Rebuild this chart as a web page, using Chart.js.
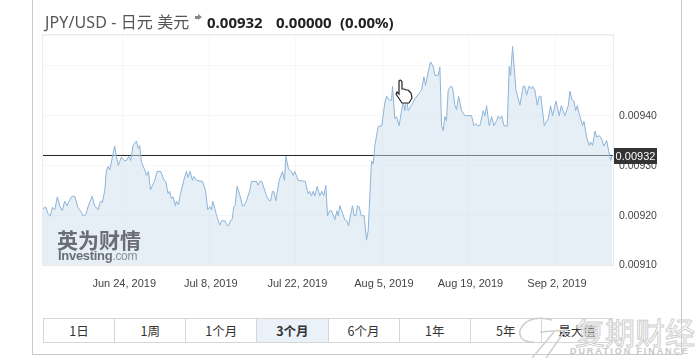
<!DOCTYPE html>
<html>
<head>
<meta charset="utf-8">
<title>JPY/USD</title>
<script src="https://cdn.jsdelivr.net/npm/chart.js@4"></script>
<style>
    html, body { margin: 0; padding: 0; background: #fff; }
    body { width: 698px; height: 360px; position: relative; overflow: hidden; font-family: "Liberation Sans", Arial, sans-serif; }
    #frame { position: absolute; left: 32px; top: -2px; width: 648px; height: 355px; border: 1.5px solid #c9c9c9; }
    #chart { position: absolute; left: 0; top: 0; }
    #title { position: absolute; left: 45px; top: 12px; font: 16px "Noto Sans", "Noto Sans CJK SC", sans-serif; color: #555; white-space: nowrap; line-height: 20px; letter-spacing: 0.1px; }
    #title b { position: absolute; top: 0; color: #222; font-size: 15px; letter-spacing: 0; }
    #arrow { position: absolute; left: 150px; top: 4px; width: 3px; height: 3px; background: #888; }
    #arrow::after { content: ""; position: absolute; left: 3px; top: -2px; border-left: 4px solid #888; border-top: 3.5px solid transparent; border-bottom: 3.5px solid transparent; }
    #tabs { position: absolute; left: 43px; top: 318px; width: 570px; height: 25px; display: flex; border: 1px solid #d6d6d6; box-sizing: border-box; }
    #tabs div { flex: 1; text-align: center; font: 12.5px/23px "Noto Sans CJK SC", sans-serif; color: #333; border-left: 1px solid #d6d6d6; }
    #tabs div:first-child { border-left: 0; }
    #tabs .on { background: #eaf1f8; font-weight: bold; }
    #brand { position: absolute; left: 57px; top: 227px; color: #6a6e74; font: bold 21px/24px "Noto Sans CJK SC", sans-serif; }
    #brand2 { position: absolute; left: 58px; top: 249px; color: #6a6e74; font: bold 13px/14px "Liberation Sans", sans-serif; letter-spacing: -0.3px; }
    #brand2 span { font-weight: normal; color: #8b8f94; font-size: 12px; }
    #wm { position: absolute; left: 575px; top: 314px; color: rgba(255,255,255,.5); -webkit-text-stroke: 1px #cfcfcf; font: 30px/34px "Noto Sans CJK SC", sans-serif; white-space: nowrap; }
    #wm2 { position: absolute; left: 570px; top: 346px; color: #c8c8c8; font: bold 9px/11px "Liberation Sans", sans-serif; letter-spacing: 1.9px; white-space: nowrap; }
    svg { position: absolute; }
</style>
</head>
<body>
<div id="frame"></div>
<canvas id="chart" width="698" height="300"></canvas>
<div id="title">JPY/USD - 日元 美元<span id="arrow"></span><b style="left:162px">0.00932</b><b style="left:231px">0.00000</b><b style="left:295px">(0.00%)</b></div>
<div id="brand">英为财情</div>
<div id="brand2">Investing<span>.com</span></div>
<svg style="left:394px;top:79px" width="20" height="26" viewBox="0 0 20 26">
    <path d="M5 2 Q7 0 8 3 L8 10 L10 10 L12 11 L14 11 L16 13 L17 14 L18 19 L15 24 L8 24 L2 15 L3 13 L5 15 Z" fill="#fff" stroke="#222" stroke-width="1.2"/>
</svg>
<div id="tabs"><div>1日</div><div>1周</div><div>1个月</div><div class="on">3个月</div><div>6个月</div><div>1年</div><div>5年</div><div>最大值</div></div>
<svg style="left:516px;top:316px" width="60" height="42" viewBox="0 0 60 42" fill="none" stroke="#cfcfcf" stroke-width="1.5">
    <path d="M36 4 Q12 -2 4 14 Q2 26 18 26"/>
    <path d="M24 16 L52 14 M38 16 L16 42 M48 16 L30 42"/>
</svg>
<div id="wm">复期财经</div>
<div id="wm2">DURATION FINANCE</div>
<script>
// days counted from Jun 24, 2019
const days = [
    -12.9, -12.46, -12.08, -11.71, -11.38, -11.0, -10.57, -10.2, -9.82, -9.39, -9.01, -8.58, -8.2, -7.77, -7.23, -6.69,
    -6.42, -5.99, -5.61, -4.96, -4.53, -3.99, -3.61, -3.29, -2.91, -2.64, -2.37, -2.1, -1.67, -1.3, -1.03, -0.7,
    -0.22, 0.21, 0.59, 0.97, 1.29, 1.67, 2.21, 2.53, 2.75, 3.02, 3.56, 3.83, 4.15, 4.48, 5.18, 5.56,
    6.15, 6.69, 6.96, 7.34, 7.6, 7.87, 8.14, 8.52, 8.68, 9.01, 9.33, 9.87, 10.3, 10.57, 10.89, 11.27,
    11.49, 11.92, 12.89, 13.38, 13.75, 14.08, 14.35, 14.56, 14.89, 15.26, 15.7, 16.02, 16.51, 16.88, 17.1, 17.42,
    17.69, 17.96, 18.18, 18.5, 18.93, 19.36, 19.63, 20.01, 20.55, 20.82, 21.63, 21.9, 22.17, 22.49, 23.25, 23.68,
    23.9, 24.22, 24.43, 24.76, 25.3, 25.84, 26.16, 26.38, 26.81, 27.29, 27.56, 27.83, 28.37, 29.51, 29.99, 30.26,
    30.53, 30.8, 31.07, 31.45, 31.88, 32.2, 32.53, 32.85, 33.12, 33.5, 33.77, 34.31, 34.63, 34.85, 35.11, 35.92,
    36.3, 36.52, 37.16, 37.43, 37.7, 37.97, 38.24, 38.57, 39.05, 39.43, 39.7, 40.24, 40.51, 40.78, 41.32, 41.91,
    42.4, 42.67, 43.1, 43.47, 43.64, 44.01, 44.28, 44.71, 45.09, 45.36, 45.63, 45.9, 46.17, 46.71, 47.25, 48.06,
    48.33, 48.71, 48.98, 49.41, 49.79, 50.22, 50.49, 51.03, 51.3, 51.57, 51.84, 52.1, 52.37, 52.64, 53.02, 53.35,
    53.72, 53.99, 54.32, 54.8, 55.34, 56.42, 56.8, 57.12, 57.34, 57.77, 58.31, 58.58, 58.85, 59.28, 59.66, 60.04,
    60.47, 60.74, 61.01, 61.33, 61.65, 62.19, 62.52, 62.73, 63.06, 63.6, 64.24, 64.78, 65.05, 65.32, 65.7, 66.13,
    66.29, 66.67, 67.05, 67.37, 67.64, 68.18, 68.83, 69.2, 69.53, 70.07, 70.61, 70.93, 71.52, 72.06, 72.33, 72.66,
    72.98, 73.25, 73.52, 73.95, 74.38, 74.6, 75.03, 75.46, 75.68, 76, 76.38, 76.65, 77.08, 77.46, 77.84, 78.27,
    78.91, 79.18
];
const prices = [
    0.009213, 0.009217, 0.009203, 0.009198, 0.009216, 0.009211, 0.009237, 0.009219, 0.009209, 0.009228, 0.009219, 0.009231, 0.009238, 0.009238, 0.009215, 0.009206,
    0.009199, 0.009201, 0.009217, 0.009238, 0.009219, 0.009211, 0.009228, 0.009226, 0.009250, 0.009290, 0.009298, 0.009291, 0.009317, 0.009339, 0.009317, 0.009300,
    0.009317, 0.009310, 0.009310, 0.009318, 0.009310, 0.009340, 0.009349, 0.009333, 0.009340, 0.009307, 0.009291, 0.009280, 0.009288, 0.009251, 0.009270, 0.009288,
    0.009288, 0.009270, 0.009268, 0.009243, 0.009248, 0.009233, 0.009237, 0.009219, 0.009228, 0.009221, 0.009243, 0.009270, 0.009288, 0.009276, 0.009288, 0.009270,
    0.009278, 0.009270, 0.009268, 0.009250, 0.009211, 0.009217, 0.009211, 0.009228, 0.009213, 0.009196, 0.009180, 0.009189, 0.009189, 0.009179, 0.009179, 0.009189,
    0.009191, 0.009217, 0.009219, 0.009258, 0.009241, 0.009219, 0.009219, 0.009229, 0.009250, 0.009268, 0.009268, 0.009260, 0.009268, 0.009268, 0.009239, 0.009229,
    0.009229, 0.009248, 0.009248, 0.009229, 0.009270, 0.009288, 0.009270, 0.009318, 0.009293, 0.009288, 0.009280, 0.009288, 0.009270, 0.009268, 0.009243, 0.009248,
    0.009239, 0.009248, 0.009239, 0.009258, 0.009239, 0.009248, 0.009239, 0.009260, 0.009199, 0.009209, 0.009209, 0.009191, 0.009209, 0.009199, 0.009219, 0.009191,
    0.009188, 0.009179, 0.009219, 0.009199, 0.009199, 0.009219, 0.009217, 0.009199, 0.009199, 0.009150, 0.009169, 0.009309, 0.009303, 0.009340, 0.009378, 0.009380,
    0.009427, 0.009439, 0.009431, 0.009431, 0.009459, 0.009394, 0.009398, 0.009380, 0.009410, 0.009427, 0.009410, 0.009434, 0.009410, 0.009421, 0.009434, 0.009447,
    0.009451, 0.009478, 0.009461, 0.009488, 0.009508, 0.009499, 0.009481, 0.009481, 0.009498, 0.009380, 0.009370, 0.009398, 0.009390, 0.009451, 0.009459, 0.009457,
    0.009421, 0.009412, 0.009439, 0.009410, 0.009400, 0.009400, 0.009380, 0.009384, 0.009380, 0.009380, 0.009410, 0.009400, 0.009420, 0.009380, 0.009398, 0.009380,
    0.009390, 0.009399, 0.009394, 0.009399, 0.009380, 0.009379, 0.009499, 0.009481, 0.009539, 0.009451, 0.009421, 0.009459, 0.009459, 0.009441, 0.009459, 0.009454,
    0.009459, 0.009451, 0.009421, 0.009439, 0.009439, 0.009380, 0.009394, 0.009420, 0.009400, 0.009429, 0.009400, 0.009420, 0.009400, 0.009420, 0.009449, 0.009432,
    0.009429, 0.009410, 0.009420, 0.009398, 0.009380, 0.009389, 0.009357, 0.009340, 0.009347, 0.009340, 0.009369, 0.009357, 0.009360, 0.009353, 0.009339, 0.009350,
    0.009310, 0.009320
];
const lastPrice = 0.00932;
const lastLabel = '0.00932';
const tickDays = [0, 14, 28, 42, 56, 70];
const tickLabels = ['Jun 24, 2019', 'Jul 8, 2019', 'Jul 22, 2019', 'Aug 5, 2019', 'Aug 19, 2019', 'Sep 2, 2019'];
const priceTicks = ['0.00910', '0.00920', '0.00930', '0.00940'];

// frame of the plot and the dark box with the last price
const plotDecor = {
    id: 'plotDecor',
    afterDatasetsDraw(chart) {
        const { ctx, chartArea: a, scales } = chart;
        ctx.save();
        ctx.strokeStyle = '#ebebeb';
        ctx.lineWidth = 1;
        ctx.strokeRect(a.left - 0.5, a.top - 0.5, a.right - a.left + 1, a.bottom - a.top + 1);
        const y = scales.y.getPixelForValue(lastPrice);
        ctx.fillStyle = '#333';
        ctx.fillRect(a.right + 1, Math.round(y - 7.5), 43, 16);
        ctx.fillStyle = '#fff';
        ctx.font = '11px "Liberation Sans", sans-serif';
        ctx.textBaseline = 'middle';
        ctx.textAlign = 'center';
        ctx.fillText(lastLabel, a.right + 22.5, y + 1);
        ctx.restore();
    }
};

new Chart(document.getElementById('chart').getContext('2d'), {
    type: 'line',
    data: {
        datasets: [
            {
                data: days.map((d, i) => ({ x: d, y: prices[i] })),
                borderColor: '#8db4d8',
                borderWidth: 1,
                backgroundColor: 'rgba(205,222,238,0.5)',
                fill: 'start',
                pointRadius: 0,
                tension: 0
            },
            {
                data: [{ x: -12.9, y: lastPrice }, { x: 79.3, y: lastPrice }],
                borderColor: '#222',
                borderWidth: 1,
                pointRadius: 0,
                fill: false
            }
        ]
    },
    plugins: [plotDecor],
    options: {
        responsive: false,
        animation: false,
        layout: { padding: { left: 43, top: 35, right: 0, bottom: 0 } },
        plugins: { legend: { display: false }, tooltip: { enabled: false } },
        scales: {
            x: {
                type: 'linear',
                min: -12.9,
                max: 79.3,
                afterBuildTicks: scale => { scale.ticks = tickDays.map(v => ({ value: v })); },
                afterFit: scale => { scale.height = 35; },
                grid: { color: '#f6f6f6', drawTicks: false },
                border: { display: false },
                ticks: {
                    autoSkip: false,
                    maxRotation: 0,
                    padding: 12,
                    labelOffset: 1.5,
                    color: '#444',
                    font: { family: '"Liberation Sans", sans-serif', size: 11 },
                    callback: value => tickLabels[tickDays.indexOf(value)]
                }
            },
            y: {
                position: 'right',
                min: 0.0091,
                max: 0.009562,
                afterFit: scale => { scale.width = 85; },
                grid: { color: '#f6f6f6', drawTicks: false },
                border: { display: false },
                ticks: {
                    stepSize: 0.0001,
                    padding: 6,
                    labelOffset: 0.5,
                    color: '#444',
                    font: { family: '"Liberation Sans", sans-serif', size: 10.5 },
                    callback: value => {
                        const label = value.toFixed(5);
                        return priceTicks.includes(label) ? label : '';
                    }
                }
            }
        }
    }
});
</script>
</body>
</html>
